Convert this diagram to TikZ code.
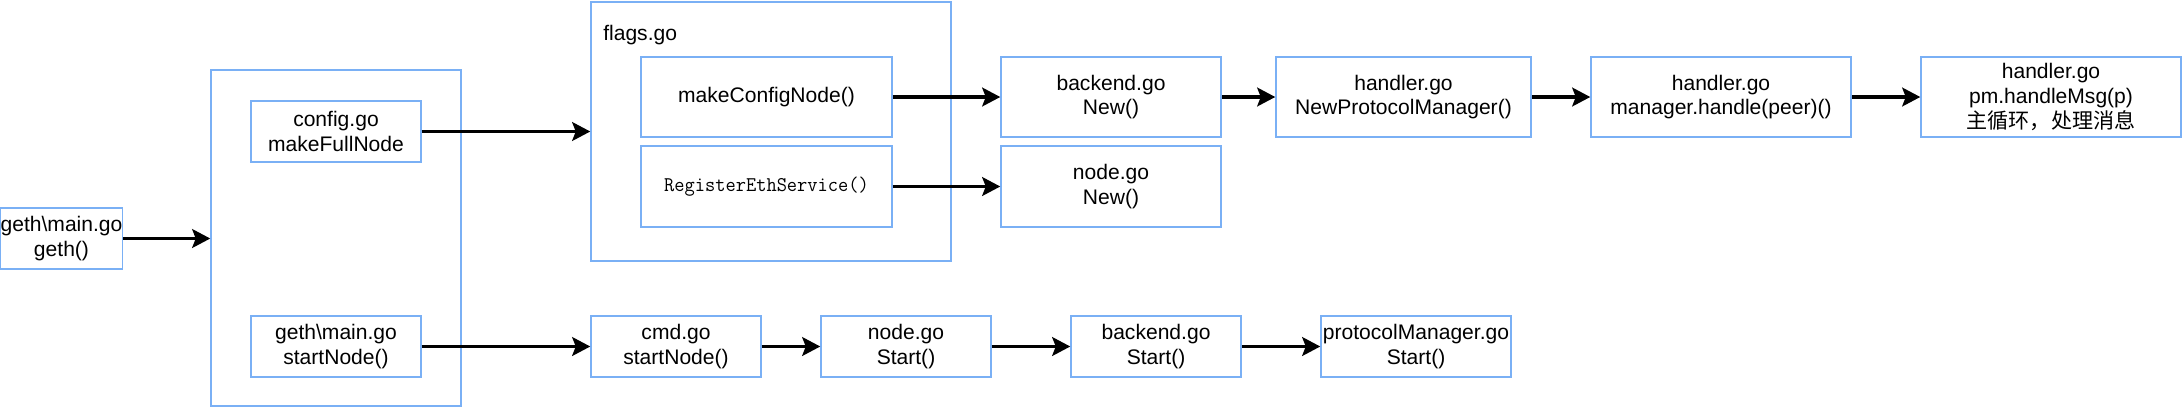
\documentclass[tikz,border=0pt]{standalone}
\usepackage{fontspec}
\setmainfont{Liberation Sans}
\newfontfamily\cjk{Noto Sans CJK SC}
\newfontfamily\simmono{Latin Modern Mono}[FakeStretch=0.95]
\usetikzlibrary{arrows.meta}
\definecolor{boxblue}{RGB}{122,176,245}
\tikzset{
  box/.style={draw=boxblue, line width=1.1pt, rectangle, align=center, inner sep=0pt,
    font=\fontsize{15.8pt}{18.6pt}\selectfont},
  flow/.style={line width=2.6pt, -{Stealth[length=13.5pt,width=14pt,inset=2.6pt]}}
}
\begin{document}
\begin{tikzpicture}[x=0.75pt,y=-0.75pt]
\useasboundingbox (0,0) rectangle (2183,408);
% containers
\node[box, minimum width=187.5pt, minimum height=252pt] (outer) at (336,238) {};
\node[box, minimum width=270pt, minimum height=194.25pt] (flags) at (771,131.5) {};
\node[font=\fontsize{15.8pt}{18.6pt}\selectfont, anchor=west, inner sep=0pt] (flagslbl) at (603,35) {flags.go};
% nodes
\node[box, minimum width=90.75pt, minimum height=45.75pt] (gethmain) at (61.5,238.5) {geth\textbackslash main.go\\geth()};
\node[box, minimum width=127.5pt, minimum height=45.75pt] (config) at (336,131.5) {config.go\\makeFullNode};
\node[box, minimum width=127.5pt, minimum height=45.75pt] (startnode) at (336,346.5) {geth\textbackslash main.go\\startNode()};
\node[box, minimum width=188.25pt, minimum height=60pt] (makecfg) at (766.5,97) {makeConfigNode()};
\node[box, minimum width=188.25pt, minimum height=60.75pt, font=\fontsize{15.7pt}{18pt}\simmono] (register) at (766.5,186.5) {RegisterEthService()};
\node[box, minimum width=165pt, minimum height=60pt] (backendnew) at (1111,97) {backend.go\\New()};
\node[box, minimum width=165pt, minimum height=60.75pt] (nodenew) at (1111,186.5) {node.go\\New()};
\node[box, minimum width=191.25pt, minimum height=60pt] (npm) at (1403.5,97) {handler.go\\NewProtocolManager()};
\node[box, minimum width=195pt, minimum height=60pt] (mhandle) at (1721,97) {handler.go\\manager.handle(peer)()};
\node[box, minimum width=195pt, minimum height=60pt] (pmhandle) at (2051,97) {handler.go\\pm.handleMsg(p)\\{\cjk 主循环，处理消息}};
\node[box, minimum width=127.5pt, minimum height=45.75pt] (cmd) at (676,346.5) {cmd.go\\startNode()};
\node[box, minimum width=127.5pt, minimum height=45.75pt] (nodestart) at (906,346.5) {node.go\\Start()};
\node[box, minimum width=127.5pt, minimum height=45.75pt] (backendstart) at (1156,346.5) {backend.go\\Start()};
\node[box, minimum width=142.5pt, minimum height=45.75pt] (pmstart) at (1416,346.5) {protocolManager.go\\Start()};
% connectors
\draw[flow] (gethmain.east) -- (gethmain.east -| outer.west);
\draw[flow] (config.east) -- (config.east -| flags.west);
\draw[flow] (startnode.east) -- (startnode.east -| cmd.west);
\draw[flow] (makecfg.east) -- (makecfg.east -| backendnew.west);
\draw[flow] (register.east) -- (register.east -| nodenew.west);
\draw[flow] (backendnew.east) -- (backendnew.east -| npm.west);
\draw[flow] (npm.east) -- (npm.east -| mhandle.west);
\draw[flow] (mhandle.east) -- (mhandle.east -| pmhandle.west);
\draw[flow] (cmd.east) -- (cmd.east -| nodestart.west);
\draw[flow] (nodestart.east) -- (nodestart.east -| backendstart.west);
\draw[flow] (backendstart.east) -- (backendstart.east -| pmstart.west);
\end{tikzpicture}
\end{document}
